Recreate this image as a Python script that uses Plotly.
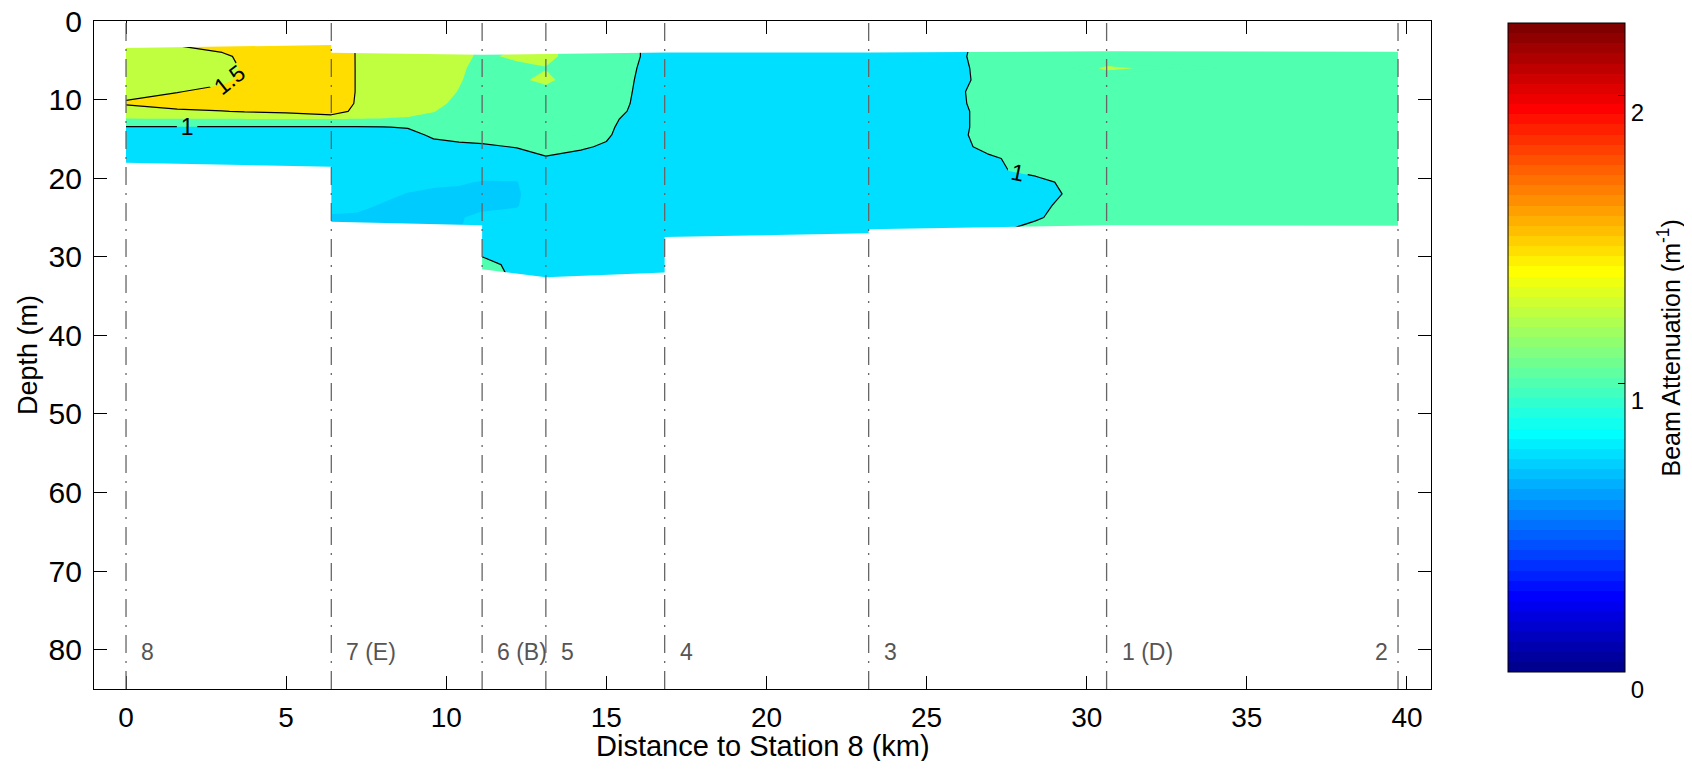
import numpy as np
import plotly.graph_objects as go

# ---------------- data ----------------
dist_km = [0, 1.6, 3.0, 3.7, 5.0, 6.41, 7.2, 8.0, 8.8, 9.6, 10.4, 11.12, 12.2, 13.11, 14.2,
           15.0, 15.6, 16.2, 16.82, 20.0, 23.19, 25.7, 26.3, 26.9, 27.6, 28.4, 29.3, 30.62, 35.0, 39.72]
depth_m = [3.0, 4.5, 6.0, 7.5, 9.0, 10.5, 11.5, 12.5, 13.5, 14.5, 16.0, 17.5, 19.0, 20.5,
           22.0, 23.5, 25.0, 26.5, 28.0, 29.5, 31.0, 32.5, 34.0]

beam_att = [
    [1.40,1.51,1.62,1.63,1.64,1.64,1.49,1.38,1.38,1.36,1.34,1.22,1.22,1.32,1.12,1.12,1.10,0.97,0.86,0.86,0.86,0.88,0.99,1.12,1.12,1.12,1.12,1.12,1.12,1.12],
    [1.38,1.40,1.44,1.57,1.64,1.65,1.49,1.38,1.38,1.36,1.33,1.20,1.30,1.32,1.12,1.12,1.10,0.97,0.86,0.86,0.86,0.88,1.01,1.12,1.12,1.12,1.12,1.12,1.12,1.12],
    [1.38,1.39,1.41,1.53,1.65,1.66,1.49,1.38,1.38,1.36,1.30,1.15,1.18,1.24,1.12,1.12,1.10,0.93,0.86,0.86,0.86,0.88,0.99,1.12,1.12,1.12,1.12,1.28,1.12,1.12],
    [1.39,1.40,1.44,1.56,1.65,1.66,1.49,1.38,1.38,1.36,1.27,1.15,1.21,1.30,1.12,1.12,1.10,0.88,0.86,0.86,0.86,0.88,0.98,1.12,1.12,1.12,1.12,1.12,1.12,1.12],
    [1.42,1.49,1.58,1.62,1.65,1.66,1.49,1.38,1.38,1.36,1.24,1.14,1.15,1.18,1.12,1.12,1.07,0.87,0.86,0.86,0.86,0.88,1.02,1.12,1.12,1.12,1.12,1.12,1.12,1.12],
    [1.53,1.62,1.65,1.66,1.66,1.66,1.48,1.38,1.37,1.33,1.18,1.13,1.14,1.14,1.12,1.12,1.04,0.87,0.86,0.86,0.86,0.88,1.01,1.12,1.12,1.12,1.12,1.12,1.12,1.12],
    [1.36,1.45,1.49,1.52,1.56,1.70,1.40,1.36,1.33,1.26,1.14,1.12,1.13,1.13,1.12,1.12,1.01,0.87,0.86,0.86,0.86,0.88,0.99,1.12,1.12,1.12,1.12,1.12,1.12,1.12],
    [1.238,1.238,1.238,1.238,1.238,1.238,1.238,1.238,1.22,1.17,1.12,1.11,1.12,1.13,1.12,1.10,0.95,0.87,0.86,0.86,0.86,0.88,0.99,1.12,1.12,1.12,1.12,1.12,1.12,1.12],
    [0.987,0.987,0.987,0.987,0.987,0.987,0.987,0.99,1.02,1.10,1.10,1.10,1.11,1.12,1.12,1.08,0.90,0.86,0.86,0.86,0.86,0.88,0.99,1.12,1.12,1.12,1.12,1.12,1.12,1.12],
    [0.86,0.86,0.86,0.86,0.86,0.86,0.86,0.86,0.90,1.05,1.08,1.08,1.10,1.11,1.10,1.05,0.87,0.86,0.86,0.86,0.86,0.88,1.00,1.12,1.12,1.12,1.12,1.12,1.12,1.12],
    [0.86,0.86,0.86,0.86,0.86,0.86,0.86,0.86,0.86,0.90,0.95,0.97,1.01,1.08,1.04,0.96,0.86,0.86,0.86,0.86,0.86,0.88,0.96,1.12,1.12,1.12,1.12,1.12,1.12,1.12],
    [0.86,0.86,0.86,0.86,0.86,0.86,0.86,0.86,0.86,0.86,0.86,0.86,0.90,0.98,0.90,0.86,0.86,0.86,0.86,0.86,0.86,0.88,0.87,0.92,1.05,1.12,1.12,1.12,1.12,1.12],
    [0.86,0.86,0.86,0.86,0.86,0.86,0.86,0.86,0.86,0.84,0.82,0.82,0.82,0.87,0.86,0.86,0.86,0.86,0.86,0.86,0.86,0.86,0.86,0.88,1.01,1.10,1.12,1.12,1.12,1.12],
    [0.86,0.86,0.86,0.86,0.86,0.86,0.86,0.84,0.80,0.78,0.77,0.74,0.745,0.86,0.86,0.86,0.86,0.86,0.86,0.86,0.86,0.86,0.86,0.86,0.88,0.90,1.05,1.12,1.12,1.12],
    [0.86,0.86,0.86,0.86,0.86,0.86,0.82,0.78,0.745,0.72,0.71,0.71,0.73,0.86,0.86,0.86,0.86,0.86,0.86,0.86,0.86,0.86,0.86,0.86,0.86,0.88,1.01,1.12,1.12,1.12],
    [0.86,0.86,0.86,0.86,0.86,0.80,0.78,0.74,0.72,0.71,0.71,0.72,0.74,0.86,0.86,0.86,0.86,0.86,0.86,0.86,0.86,0.86,0.86,0.86,0.86,0.92,1.06,1.12,1.12,1.12],
    [0.86,0.86,0.86,0.86,0.86,0.73,0.73,0.73,0.73,0.73,0.74,0.78,0.80,0.86,0.86,0.86,0.86,0.86,0.86,0.86,0.86,0.86,0.86,0.86,0.88,0.96,1.10,1.12,1.12,1.12],
    [0.86,0.86,0.86,0.86,0.86,0.74,0.74,0.73,0.73,0.73,0.74,0.84,0.84,0.86,0.86,0.86,0.86,0.86,0.86,0.86,0.86,0.88,0.88,0.90,1.00,1.10,1.12,1.12,1.12,1.12],
    [0.86,0.86,0.86,0.86,0.86,0.74,0.74,0.74,0.74,0.74,0.74,0.88,0.86,0.86,0.86,0.86,0.86,0.86,0.86,0.86,0.86,0.88,0.88,0.90,1.00,1.10,1.12,1.12,1.12,1.12],
    [0.86,0.86,0.86,0.86,0.86,0.74,0.74,0.74,0.74,0.74,0.74,0.97,0.88,0.86,0.86,0.86,0.86,0.86,0.86,0.86,0.86,0.88,0.88,0.90,1.00,1.10,1.12,1.12,1.12,1.12],
    [0.86,0.86,0.86,0.86,0.86,0.74,0.74,0.74,0.74,0.74,0.74,1.06,0.95,0.86,0.86,0.86,0.86,0.86,0.86,0.86,0.86,0.88,0.88,0.90,1.00,1.10,1.12,1.12,1.12,1.12],
    [0.86,0.86,0.86,0.86,0.86,0.74,0.74,0.74,0.74,0.74,0.74,1.08,0.97,0.86,0.86,0.86,0.86,0.86,0.86,0.86,0.86,0.88,0.88,0.90,1.00,1.10,1.12,1.12,1.12,1.12],
    [0.86,0.86,0.86,0.86,0.86,0.74,0.74,0.74,0.74,0.74,0.74,1.08,0.97,0.86,0.86,0.86,0.86,0.86,0.86,0.86,0.86,0.88,0.88,0.90,1.00,1.10,1.12,1.12,1.12,1.12],
]

# sampled section outline (top / bottom of the profiled water column)
top_x = [0, 6.41, 6.41, 11.12, 16.82, 23.19, 30.62, 39.72]
top_depth = [3.45, 3.05, 4.05, 4.3, 4.0, 4.0, 3.85, 3.9]
bottom_x = [0, 6.41, 6.41, 11.12, 11.12, 13.11, 16.82, 16.82, 23.19, 23.19, 30.62, 39.72]
bottom_depth = [18.05, 18.55, 25.55, 26.0, 31.6, 32.6, 32.0, 27.5, 27.0, 26.5, 26.0, 26.05]

station_km = [0, 6.41, 11.12, 13.11, 16.82, 23.19, 30.62, 39.72]
station_names = ["8", "7 (E)", "6 (B)", "5", "4", "3", "1 (D)", "2"]

fill_levels = [0.65, 0.75, 1.0, 1.25, 1.5, 1.75, 2.0]
fill_colors = ["rgb(0,203,255)", "rgb(0,223,255)", "rgb(80,255,175)", "rgb(191,255,64)",
               "rgb(255,221,0)", "rgb(255,96,0)", "rgb(239,0,0)"]
line_levels = [1.0, 1.5]
cmax = 2.25
x_ticks = [0, 5, 10, 15, 20, 25, 30, 35, 40]
y_ticks = [0, 10, 20, 30, 40, 50, 60, 70, 80]
cbar_ticks = [0, 1, 2]


# ---------------- colours ----------------
def jet(m=64):
    n = int(np.ceil(m / 4))
    u = np.concatenate([np.arange(1, n + 1) / n, np.ones(n - 1), np.arange(n, 0, -1) / n])
    g = int(np.ceil(n / 2)) - (1 if m % 4 == 1 else 0) + np.arange(1, len(u) + 1)
    r = g + n
    b = g - n
    J = np.zeros((m, 3))
    J[g[g <= m] - 1, 1] = u[g <= m]
    J[r[r <= m] - 1, 0] = u[r <= m]
    J[b[b >= 1] - 1, 2] = u[b >= 1]
    return J


JET = jet(64)


def rgb(c):
    return "rgb(%d,%d,%d)" % tuple(int(round(v * 255)) for v in c)


# stepped 64-colour jet for the colour bar
cbar_scale = []
for i in range(64):
    cbar_scale.append([i / 64, rgb(JET[i])])
    cbar_scale.append([(i + 1) / 64, rgb(JET[i])])

# contour fill colourscale: band above level L gets colour of the largest fill level <= L
c_start, c_size, c_end = 0.65, 0.05, 2.20
nc = int(np.floor((c_end - c_start) / c_size + 1e-6)) + 1
fill_scale = [[0.0, rgb(JET[14])]]
for k in range(nc):
    L = c_start + k * c_size
    idx = max(i for i, l in enumerate(fill_levels) if l <= L + 1e-9)
    fill_scale.append([(k + 1) / nc, fill_colors[idx]])

FONT = "Liberation Sans, Arial, sans-serif"
NARROW = "Liberation Sans Narrow, Arial Narrow, Liberation Sans, sans-serif"

fig = go.Figure()

fig.add_trace(go.Contour(
    x=dist_km, y=depth_m, z=beam_att,
    autocontour=False,
    contours=dict(start=c_start, end=c_end, size=c_size, coloring="fill", showlines=False),
    colorscale=fill_scale, showscale=False,
    line=dict(width=0, smoothing=0),
    hoverinfo="skip",
))

fig.add_trace(go.Contour(
    x=dist_km, y=depth_m, z=beam_att,
    autocontour=False,
    contours=dict(start=line_levels[0], end=line_levels[-1], size=line_levels[1] - line_levels[0],
                  coloring="none", showlabels=True,
                  labelfont=dict(family=FONT, size=23, color="black")),
    line=dict(color="black", width=1.2, smoothing=0),
    showscale=False, hoverinfo="skip",
))

# white masks outside the sampled section
pad = 0.05
fig.add_trace(go.Scatter(
    x=[top_x[0] - pad] + top_x + [top_x[-1] + pad, top_x[-1] + pad, top_x[0] - pad],
    y=[top_depth[0]] + top_depth + [top_depth[-1], depth_m[0] - 1, depth_m[0] - 1],
    fill="toself", fillcolor="white", line=dict(width=0), mode="lines",
    hoverinfo="skip", showlegend=False,
))
fig.add_trace(go.Scatter(
    x=[bottom_x[0] - pad] + bottom_x + [bottom_x[-1] + pad, bottom_x[-1] + pad, bottom_x[0] - pad],
    y=[bottom_depth[0]] + bottom_depth + [bottom_depth[-1], depth_m[-1] + 1, depth_m[-1] + 1],
    fill="toself", fillcolor="white", line=dict(width=0), mode="lines",
    hoverinfo="skip", showlegend=False,
))

# colour bar carrier
fig.add_trace(go.Scatter(
    x=[None], y=[None], mode="markers", showlegend=False, hoverinfo="skip",
    marker=dict(color=[0], cmin=0, cmax=cmax, colorscale=cbar_scale, showscale=True,
                colorbar=dict(
                    x=1.0576, xanchor="left", y=0.5112, yanchor="middle",
                    len=0.9716, lenmode="fraction", thickness=117, thicknessmode="pixels",
                    xpad=0, ypad=0, outlinewidth=1, outlinecolor="black",
                    tickvals=cbar_ticks, ticks="inside", ticklen=7, tickcolor="black",
                    ticklabelposition="outside bottom",
                    tickfont=dict(family=FONT, size=24, color="black"),
                )),
))

fig.add_annotation(xref="paper", yref="paper", x=1.178, y=0.5112, xanchor="center", yanchor="middle",
                   text="Beam Attenuation (m<sup>-1</sup>)", textangle=-90, showarrow=False,
                   font=dict(family=FONT, size=25, color="black"))

fig.add_annotation(xref="paper", yref="paper", x=0.5, y=-0.0855, xanchor="center", yanchor="middle",
                   text="Distance to Station 8 (km)", showarrow=False, borderpad=0,
                   font=dict(family=FONT, size=29, color="black"))

for s in station_km:
    fig.add_vline(x=s, line=dict(color="#666666", width=1.3, dash="18px,8px,2px,8px"), layer="above")

for s, name in zip(station_km, station_names):
    last = s == station_km[-1]
    fig.add_annotation(x=s, y=80.3, text=name, showarrow=False,
                       xanchor="right" if last else "left", xshift=-8 if last else 13,
                       font=dict(family=FONT, size=23, color="#555555"))

# the page body adds an 8 px offset; the figure is sized so the page never scrolls
fig.update_layout(
    template="none",
    width=1676, height=753, autosize=False,
    margin=dict(l=86, r=253, t=13, b=72),
    paper_bgcolor="white", plot_bgcolor="white",
    font=dict(family=FONT, color="black"),
    showlegend=False,
)
fig.update_xaxes(range=[-1, 40.75], tickvals=x_ticks, ticks="inside", ticklen=13,
                 tickcolor="black", showline=True, linecolor="black", linewidth=1.2,
                 mirror="ticks", showgrid=False, zeroline=False, automargin=False,
                 ticklabeloverflow="allow",
                 tickfont=dict(size=28), ticklabelstandoff=3)
fig.update_yaxes(range=[85, 0], tickvals=y_ticks, ticks="inside", ticklen=13,
                 tickcolor="black", showline=True, linecolor="black", linewidth=1.2,
                 mirror="ticks", showgrid=False, zeroline=False, automargin=False,
                 ticklabeloverflow="allow",
                 tickfont=dict(size=30), ticklabelstandoff=5,
                 title=dict(text="Depth (m)", font=dict(size=27, family=NARROW), standoff=3))

fig.write_html("out.html")
